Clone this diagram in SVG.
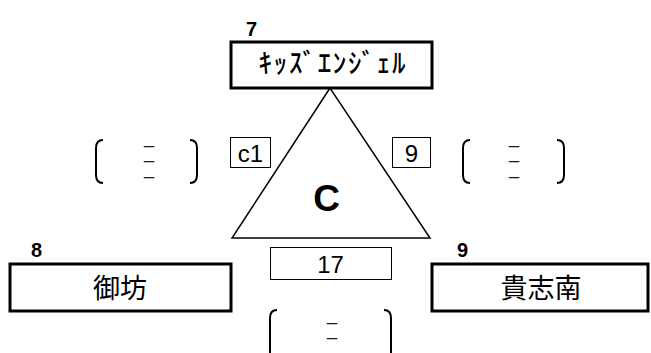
<svg xmlns="http://www.w3.org/2000/svg" width="651" height="353" viewBox="0 0 651 353">
<style>
.box{fill:#fff;stroke:#000;stroke-width:3}
.tbox{fill:#fff;stroke:#000;stroke-width:1}
.num{font-family:"Liberation Sans",Arial,sans-serif;font-weight:bold;font-size:20px;fill:#000}
.jp{font-family:"Noto Sans CJK JP","Liberation Sans",sans-serif;font-size:27px;fill:#000;text-anchor:middle}
.lbl{font-family:"Liberation Sans",Arial,sans-serif;font-size:24px;fill:#000;text-anchor:middle}
.br{fill:none;stroke:#000;stroke-width:2}
.dash{font-family:"Liberation Sans",Arial,sans-serif;font-size:10px;fill:#111;stroke:#111;stroke-width:0.5;text-anchor:middle}
</style>
<rect width="651" height="353" fill="#fff"/>
<g id="connectors">
<polygon points="330,88 232,238 430,238" fill="#fff" stroke="#000" stroke-width="1.5"/>
<text x="326.5" y="211" font-family="Liberation Sans,Arial,sans-serif" font-weight="bold" font-size="37" text-anchor="middle">C</text>
</g>
<g id="node-top">
<rect class="box" x="231" y="42" width="201" height="46"/>
<text class="num" x="246" y="36">7</text>
<text class="jp" x="332" y="73" font-size="27" font-weight="500" textLength="147" lengthAdjust="spacing">ｷｯｽﾞｴﾝｼﾞｪﾙ</text>
</g>
<g id="node-left">
<rect class="box" x="10" y="264" width="221" height="47"/>
<text class="num" x="31" y="257">8</text>
<text class="jp" x="120" y="298">御坊</text>
</g>
<g id="node-right">
<rect class="box" x="432" y="264" width="216" height="47"/>
<text class="num" x="457" y="257">9</text>
<text class="jp" x="541" y="298">貴志南</text>
</g>
<g id="label-c1">
<rect class="tbox" x="230.5" y="137.5" width="40" height="30"/>
<text class="lbl" x="250.5" y="161.5">c1</text>
</g>
<g id="label-9">
<rect class="tbox" x="392.5" y="137.5" width="38" height="30"/>
<text class="lbl" x="411.5" y="161.5">9</text>
</g>
<g id="label-17">
<rect class="tbox" x="270.5" y="247.5" width="121" height="32"/>
<text class="lbl" x="330.5" y="273" font-size="25">17</text>
</g>
<g id="bracket-left">
<path class="br" d="M103,140 Q96,140 96,148 V175 Q96,183 103,183"/>
<path class="br" d="M190,140 Q197,140 197,148 V175 Q197,183 190,183"/>
<text class="dash" x="149" y="148.5">—</text>
<text class="dash" x="149" y="163.5">—</text>
<text class="dash" x="149" y="179.5">—</text>
</g>
<g id="bracket-right">
<path class="br" d="M470,140 Q463,140 463,148 V175 Q463,183 470,183"/>
<path class="br" d="M557,140 Q564,140 564,148 V175 Q564,183 557,183"/>
<text class="dash" x="514" y="148.5">—</text>
<text class="dash" x="514" y="163.5">—</text>
<text class="dash" x="514" y="179.5">—</text>
</g>
<g id="bracket-bottom">
<path class="br" d="M277,310 Q270,310 270,318 V353"/>
<path class="br" d="M384,310 Q391,310 391,318 V353"/>
<text class="dash" x="332" y="325.5">—</text>
<text class="dash" x="332" y="340.5">—</text>
</g>
</svg>
